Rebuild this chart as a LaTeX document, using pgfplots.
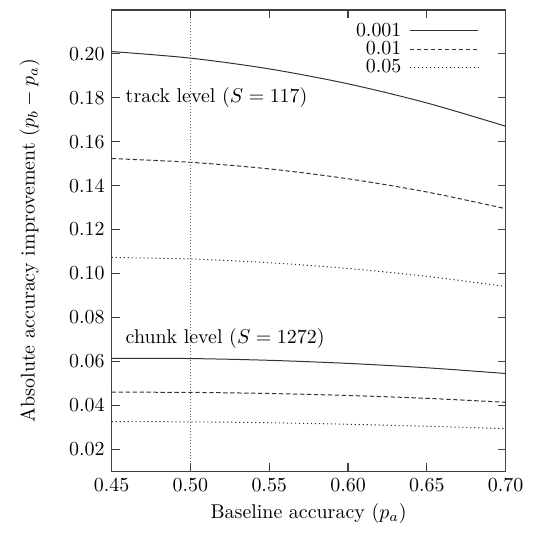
\documentclass[border={6.5pt 4pt 4.5pt 4.5pt}]{standalone}
\usepackage{pgfplots}
\pgfplotsset{compat=1.18}

\begin{document}
\begin{tikzpicture}
\begin{axis}[
    scale only axis,
    width=6.95cm,
    height=8.14cm,
    xmin=0.45, xmax=0.70,
    ymin=0.01, ymax=0.22,
    xtick={0.45,0.50,...,0.70},
    ytick={0.02,0.04,...,0.20},
    xticklabels={0.45,0.50,0.55,0.60,0.65,0.70},
    yticklabels={0.02,0.04,0.06,0.08,0.10,0.12,0.14,0.16,0.18,0.20},
    tick align=inside,
    major tick length=4pt,
    tick style={draw=black!75, line width=0.6pt},
    axis line style={draw=black!75, line width=0.8pt},
    xlabel={Baseline accuracy ($p_a$)},
    ylabel={Absolute accuracy improvement ($p_b - p_a$)},
    ylabel shift=8pt,
    xlabel shift=-1pt,
    legend style={draw=none, fill=none, at={(0.947,0.99)}, anchor=north east,
        row sep=-3pt, column sep=2pt, font=\normalsize},
    legend cell align=right,
    legend plot pos=right,
    legend image code/.code={\draw[#1] (0cm,0cm) -- (1.2cm,0cm);},
]
% track level (S = 117)
\addplot[smooth, black!80, line width=0.5pt] coordinates {
    (0.45,0.2010) (0.50,0.1980) (0.55,0.1931) (0.60,0.1863) (0.65,0.1776) (0.70,0.1670)};
\addlegendentry{0.001}
\addplot[smooth, black!80, line width=0.5pt, dash pattern=on 2.2pt off 1.3pt] coordinates {
    (0.45,0.1523) (0.50,0.1506) (0.55,0.1476) (0.60,0.1431) (0.65,0.1371) (0.70,0.1295)};
\addlegendentry{0.01}
\addplot[smooth, black!80, line width=0.5pt, dash pattern=on 0.6pt off 1.4pt] coordinates {
    (0.45,0.1073) (0.50,0.1066) (0.55,0.1049) (0.60,0.1023) (0.65,0.0987) (0.70,0.0941)};
\addlegendentry{0.05}
% chunk level (S = 1272)
\addplot[smooth, black!80, line width=0.5pt, forget plot] coordinates {
    (0.45,0.0614) (0.50,0.0613) (0.55,0.0605) (0.60,0.0591) (0.65,0.0571) (0.70,0.0545)};
\addplot[smooth, black!80, line width=0.5pt, dash pattern=on 2.2pt off 1.3pt, forget plot] coordinates {
    (0.45,0.0460) (0.50,0.0459) (0.55,0.0454) (0.60,0.0445) (0.65,0.0432) (0.70,0.0414)};
\addplot[smooth, black!80, line width=0.5pt, dash pattern=on 0.6pt off 1.4pt, forget plot] coordinates {
    (0.45,0.0326) (0.50,0.0325) (0.55,0.0321) (0.60,0.0314) (0.65,0.0305) (0.70,0.0294)};
% vertical marker at p_a = 0.5
\addplot[black!60, line width=0.5pt, dash pattern=on 0.5pt off 1pt, forget plot] coordinates {
    (0.50,0.01) (0.50,0.22)};
% tick marks on all four sides
\pgfplotsinvokeforeach{0.45,0.50,0.55,0.60,0.65,0.70}{
    \draw[black!75, line width=0.6pt] (axis cs:#1,0.01) -- ++(0pt,4pt);
    \draw[black!75, line width=0.6pt] (axis cs:#1,0.22) -- ++(0pt,-4pt);
}
\pgfplotsinvokeforeach{0.02,0.04,0.06,0.08,0.10,0.12,0.14,0.16,0.18,0.20}{
    \draw[black!75, line width=0.6pt] (axis cs:0.45,#1) -- ++(4pt,0pt);
    \draw[black!75, line width=0.6pt] (axis cs:0.70,#1) -- ++(-4pt,0pt);
}
\node[anchor=west] at (axis cs:0.4545,0.180) {track level ($S = 117$)};
\node[anchor=west] at (axis cs:0.4545,0.0705) {chunk level ($S = 1272$)};
\end{axis}
\end{tikzpicture}
\end{document}
